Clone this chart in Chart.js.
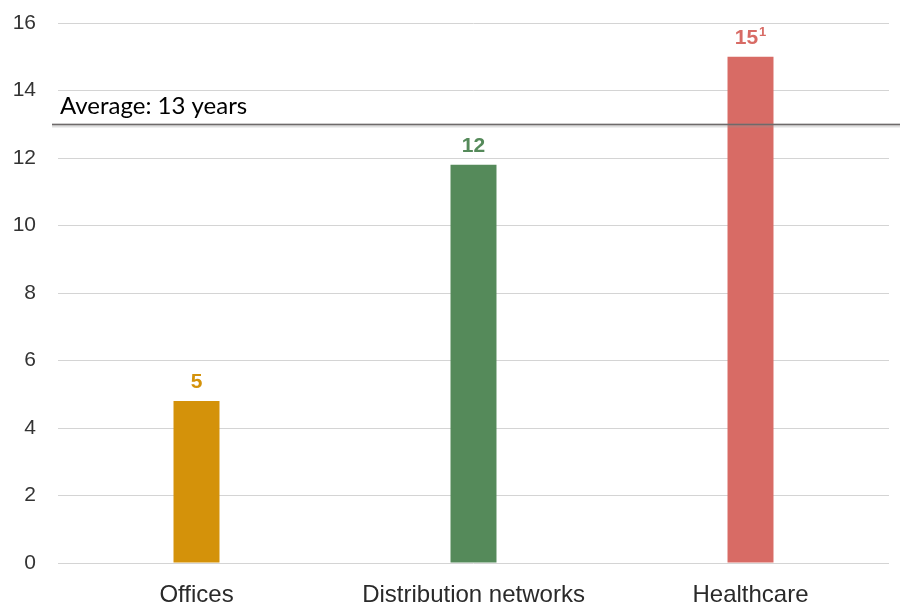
<!DOCTYPE html>
<html>
<head>
<meta charset="utf-8">
<script src="https://cdn.jsdelivr.net/npm/chart.js@4"></script>
<style>
html,body{margin:0;padding:0;background:#fff;}
#wrap{width:900px;height:603px;position:relative;}
</style>
</head>
<body>
<div id="wrap"><canvas id="c" width="900" height="603"></canvas></div>
<script>
const categories = ["Offices", "Distribution networks", "Healthcare"];
const values = [4.8, 11.8, 15];
const valueLabels = ["5", "12", "15"];
const labelSuperscripts = ["", "", "1"];
const barColors = ["#D4920A", "#558A5A", "#D86B65"];
const averageValue = 13;
const averageLabel = "Average: 13 years";
const yTicks = [0, 2, 4, 6, 8, 10, 12, 14, 16];

const overlay = {
  id: 'overlay',
  afterDatasetsDraw(chart) {
    const ctx = chart.ctx;
    const y = chart.scales.y;
    const area = chart.chartArea;
    const ay = Math.round(y.getPixelForValue(averageValue)) + 0.5;
    ctx.save();
    ctx.strokeStyle = 'rgba(150,150,150,0.3)';
    ctx.lineWidth = 4;
    ctx.beginPath();
    ctx.moveTo(area.left - 6, ay + 1);
    ctx.lineTo(chart.width, ay + 1);
    ctx.stroke();
    ctx.strokeStyle = '#6e6a6a';
    ctx.lineWidth = 1.5;
    ctx.beginPath();
    ctx.moveTo(area.left - 6, ay);
    ctx.lineTo(chart.width, ay);
    ctx.stroke();
    ctx.fillStyle = '#000';
    ctx.font = '24px Lato, "Open Sans", sans-serif';
    ctx.textAlign = 'left';
    ctx.textBaseline = 'alphabetic';
    ctx.fillText(averageLabel, area.left + 2, ay - 11);
    const meta = chart.getDatasetMeta(0);
    const mainFont = 'bold 21px "Liberation Sans", Arial, sans-serif';
    const supFont = 'bold 13px "Liberation Sans", Arial, sans-serif';
    meta.data.forEach((bar, i) => {
      ctx.fillStyle = barColors[i];
      const main = valueLabels[i];
      const sup = labelSuperscripts[i];
      ctx.font = mainFont;
      const wMain = ctx.measureText(main).width;
      ctx.font = supFont;
      const wSup = sup ? ctx.measureText(sup).width + 1 : 0;
      const x0 = bar.x - (wMain + wSup) / 2;
      const by = bar.y - 13;
      ctx.textAlign = 'left';
      ctx.font = mainFont;
      ctx.fillText(main, x0, by);
      if (sup) {
        ctx.font = supFont;
        ctx.fillText(sup, x0 + wMain + 1, by - 8);
      }
    });
    ctx.restore();
  }
};

new Chart(document.getElementById('c'), {
  type: 'bar',
  data: {
    labels: categories,
    datasets: [{
      data: values,
      backgroundColor: barColors,
      borderWidth: 0,
      barPercentage: 0.166,
      categoryPercentage: 1.0
    }]
  },
  options: {
    responsive: false,
    animation: false,
    devicePixelRatio: 1,
    layout: { padding: { top: 23, right: 11, left: 0, bottom: 0 } },
    plugins: { legend: { display: false }, tooltip: { enabled: false } },
    scales: {
      x: {
        grid: { display: false, drawTicks: false },
        border: { display: false },
        ticks: { color: '#2a2a2a', font: { family: '"Liberation Sans", Arial, sans-serif', size: 24 }, padding: 18, maxRotation: 0 },
        afterFit(s) { s.height = 40; s.paddingLeft = 0; s.paddingRight = 0; }
      },
      y: {
        min: 0, max: 16,
        afterBuildTicks(s) { s.ticks = yTicks.map(v => ({ value: v })); },
        grid: { color: '#d4d4d4', lineWidth: 1, drawTicks: false },
        border: { display: false },
        ticks: { color: '#333', font: { family: '"Liberation Sans", Arial, sans-serif', size: 21 }, padding: 22 },
        afterFit(s) { s.width = 58; s.paddingTop = 0; s.paddingBottom = 0; }
      }
    }
  },
  plugins: [overlay]
});
</script>
</body>
</html>
